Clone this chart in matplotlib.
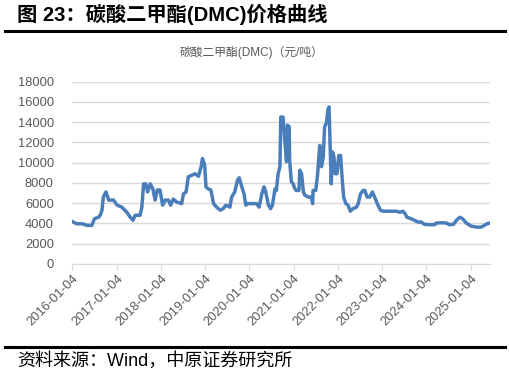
# coding: utf-8
import matplotlib
matplotlib.use('Agg')
import matplotlib.pyplot as plt

plt.rcParams['font.family'] = ['Liberation Sans', 'Noto Sans CJK SC', 'DejaVu Sans']

# 时间(小数年)与价格(元/吨)
t_year = [2016.00, 2016.11, 2016.23, 2016.34, 2016.45, 2016.51, 2016.60, 2016.64,
          2016.68, 2016.71, 2016.77, 2016.83, 2016.94,
          2017.02, 2017.13, 2017.24, 2017.32, 2017.38, 2017.43, 2017.54, 2017.58,
          2017.62, 2017.67, 2017.71, 2017.77, 2017.83, 2017.88, 2017.93, 2017.99,
          2018.05, 2018.11, 2018.18, 2018.23, 2018.29, 2018.37, 2018.48, 2018.52,
          2018.58, 2018.63, 2018.71, 2018.78, 2018.86, 2018.92, 2018.95,
          2019.00, 2019.03, 2019.08, 2019.14, 2019.20, 2019.27, 2019.35, 2019.42,
          2019.48, 2019.57, 2019.61, 2019.68, 2019.74, 2019.78, 2019.83, 2019.89,
          2019.93, 2019.95,
          2020.10, 2020.17, 2020.23, 2020.29, 2020.34, 2020.38, 2020.44, 2020.49,
          2020.53, 2020.59, 2020.62, 2020.66, 2020.70, 2020.72, 2020.77, 2020.81,
          2020.85, 2020.87, 2020.91, 2020.92, 2020.96,
          2021.00, 2021.04, 2021.07, 2021.13, 2021.15, 2021.19, 2021.23, 2021.26,
          2021.34, 2021.41, 2021.44, 2021.45, 2021.51, 2021.55, 2021.60, 2021.64,
          2021.68, 2021.71, 2021.75, 2021.79, 2021.81, 2021.84, 2021.86, 2021.89,
          2021.92, 2021.95, 2021.99,
          2022.03, 2022.07, 2022.11, 2022.14, 2022.19, 2022.24, 2022.29, 2022.35,
          2022.43, 2022.47, 2022.52, 2022.58, 2022.62, 2022.67, 2022.73, 2022.79,
          2022.84, 2022.90, 2022.97,
          2023.03, 2023.18, 2023.33, 2023.41, 2023.48, 2023.53, 2023.57, 2023.67,
          2023.74, 2023.82, 2023.89, 2023.97,
          2024.08, 2024.20, 2024.23, 2024.35, 2024.46, 2024.53, 2024.62, 2024.70,
          2024.77, 2024.83, 2024.91,
          2025.02, 2025.14, 2025.25, 2025.32, 2025.38, 2025.44]

price = [4200, 3960, 3960, 3800, 3800, 4460, 4600, 4800,
         5300, 6600, 7100, 6300, 6300,
         5800, 5600, 5100, 4600, 4300, 4800, 4800, 5600,
         7900, 7900, 7100, 7900, 7400, 6300, 7300, 7300,
         5800, 6300, 6300, 5800, 6400, 6100, 5950, 6900,
         7100, 8600, 8750, 8900, 8650, 9600, 10400,
         9750, 7600, 7400, 7300, 5950, 5600, 5300, 5450,
         5800, 5600, 6600, 7100, 8250, 8500, 7750, 6900,
         5800, 5950,
         5950, 5950, 5600, 6900, 7600, 7100, 5800, 5450,
         5800, 7400, 7250, 8900, 9600, 14500, 14500, 12200,
         10100, 13700, 13550, 10200, 8100,
         7900, 7400, 7250, 7250, 9250, 8900, 7100, 6800,
         6600, 6600, 5950, 7250, 7250, 8750, 11700, 9600,
         10600, 13550, 13900, 15350, 15500, 10900, 7900, 11050,
         10600, 8900, 8900,
         10700, 10700, 8250, 6600, 5950, 5800, 5200, 5450,
         5600, 5950, 6900, 7250, 7250, 6600, 6600, 7100,
         6600, 5950, 5300,
         5200, 5200, 5200, 5100, 5200, 4950, 4600, 4450,
         4300, 4130, 4130, 3900,
         3870, 3870, 4030, 4060, 4030, 3870, 3900, 4360,
         4600, 4450, 4030,
         3730, 3630, 3630, 3800, 3960, 4030]

tick_years = [2016, 2017, 2018, 2019, 2020, 2021, 2022, 2023, 2024, 2025]
tick_labels = ['%d-01-04' % y for y in tick_years]
y_ticks = list(range(0, 18001, 2000))

fig = plt.figure(figsize=(5.1, 3.78), dpi=100)

# 标题与分隔线
fig.text(0.034, 0.962, '图 23：碳酸二甲酯(DMC)价格曲线', fontsize=14.6,
         fontweight='bold', ha='left', va='center', color='black')
fig.add_artist(plt.Line2D([0.01, 0.99], [0.918, 0.918], color='black', lw=2.2))
fig.add_artist(plt.Line2D([0.01, 0.99], [0.082, 0.082], color='black', lw=2.2))
fig.text(0.034, 0.045, '资料来源：Wind，中原证券研究所', fontsize=13,
         ha='left', va='center', color='black')
fig.text(0.494, 0.862, '碳酸二甲酯(DMC)（元/吨）', fontsize=8.5,
         ha='center', va='center', color='#595959')

ax = fig.add_axes([0.141, 0.302, 0.82, 0.482])
ax.plot(t_year, price, color='#4a7ebb', lw=2.5, solid_joinstyle='round')

ax.set_ylim(0, 18000)
ax.set_xlim(2016.0, 2025.45)
ax.set_yticks(y_ticks)
ax.set_yticklabels([str(v) for v in y_ticks])
ax.set_xticks([y + 0.01 for y in tick_years])
ax.set_xticklabels(tick_labels, rotation=45, ha='right', rotation_mode='anchor')

ax.grid(axis='y', color='#d9d9d9', lw=1)
ax.set_axisbelow(True)
for s in ['top', 'right', 'left']:
    ax.spines[s].set_visible(False)
ax.spines['bottom'].set_color('#d9d9d9')
ax.tick_params(axis='y', length=0, pad=13, labelsize=9.3, labelcolor='#595959')
ax.tick_params(axis='x', length=4, color='#d9d9d9', pad=2, labelsize=9.3,
               labelcolor='#595959')

fig.savefig('out.png', dpi=100)
